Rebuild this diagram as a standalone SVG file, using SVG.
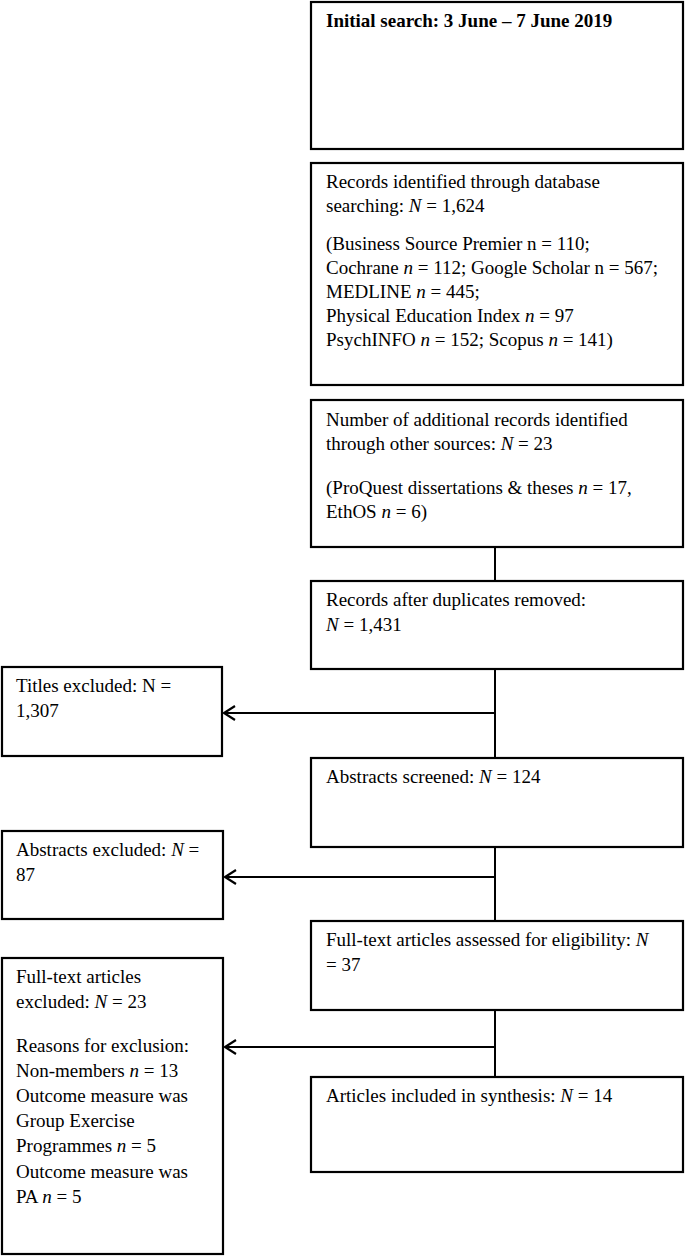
<svg xmlns="http://www.w3.org/2000/svg" width="685" height="1256" viewBox="0 0 685 1256">
<defs>
<style>
.box{fill:#fff;stroke:#000;stroke-width:2.2}
.t{font-family:"Liberation Serif","Times New Roman",serif;font-size:19px;fill:#000}
.b{font-weight:bold}
.i{font-style:italic}
.c{stroke:#000;stroke-width:2;fill:none}
</style>
<marker id="arr" markerUnits="userSpaceOnUse" markerWidth="20" markerHeight="20" refX="0" refY="0" orient="auto" overflow="visible">
<path d="M-11,-7 L0,0 L-11,7" fill="none" stroke="#000" stroke-width="2.2"/>
</marker>
</defs>
<rect width="685" height="1256" fill="#fff"/>

<g id="connectors">
<line class="c" x1="495" y1="547" x2="495" y2="581"/>
<line class="c" x1="495" y1="669" x2="495" y2="758"/>
<line class="c" x1="495" y1="713" x2="224" y2="713" marker-end="url(#arr)"/>
<line class="c" x1="495" y1="847" x2="495" y2="921"/>
<line class="c" x1="495" y1="877" x2="225" y2="877" marker-end="url(#arr)"/>
<line class="c" x1="495" y1="1010" x2="495" y2="1077"/>
<line class="c" x1="495" y1="1047" x2="225" y2="1047" marker-end="url(#arr)"/>
</g>

<g id="initial-search">
<rect class="box" x="311" y="2" width="372" height="147"/>
<text class="t b" x="326" y="27">Initial search: 3 June – 7 June 2019</text>
</g>

<g id="records-identified">
<rect class="box" x="311" y="163" width="372" height="222"/>
<text class="t" x="326" y="188">Records identified through database</text>
<text class="t" x="326" y="212">searching: <tspan class="i">N</tspan> = 1,624</text>
<text class="t" x="326" y="250">(Business Source Premier n = 110;</text>
<text class="t" x="326" y="274">Cochrane <tspan class="i">n</tspan> = 112; Google Scholar n = 567;</text>
<text class="t" x="326" y="298">MEDLINE <tspan class="i">n</tspan> = 445;</text>
<text class="t" x="326" y="322">Physical Education Index <tspan class="i">n</tspan> = 97</text>
<text class="t" x="326" y="346">PsychINFO <tspan class="i">n</tspan> = 152; Scopus <tspan class="i">n</tspan> = 141)</text>
</g>

<g id="additional-records">
<rect class="box" x="311" y="400" width="372" height="147"/>
<text class="t" x="326" y="426">Number of additional records identified</text>
<text class="t" x="326" y="450">through other sources: <tspan class="i">N</tspan> = 23</text>
<text class="t" x="326" y="494">(ProQuest dissertations &amp; theses <tspan class="i">n</tspan> = 17,</text>
<text class="t" x="326" y="518">EthOS <tspan class="i">n</tspan> = 6)</text>
</g>

<g id="after-duplicates">
<rect class="box" x="311" y="581" width="372" height="88"/>
<text class="t" x="326" y="606">Records after duplicates removed:</text>
<text class="t" x="326" y="631"><tspan class="i">N</tspan> = 1,431</text>
</g>

<g id="titles-excluded">
<rect class="box" x="2" y="667" width="220" height="89"/>
<text class="t" x="16" y="692">Titles excluded: N =</text>
<text class="t" x="16" y="717">1,307</text>
</g>

<g id="abstracts-screened">
<rect class="box" x="311" y="758" width="372" height="89"/>
<text class="t" x="326" y="783">Abstracts screened: <tspan class="i">N</tspan> = 124</text>
</g>

<g id="abstracts-excluded">
<rect class="box" x="2" y="831" width="221" height="88"/>
<text class="t" x="16" y="856">Abstracts excluded: <tspan class="i">N</tspan> =</text>
<text class="t" x="16" y="881">87</text>
</g>

<g id="fulltext-assessed">
<rect class="box" x="311" y="921" width="372" height="89"/>
<text class="t" x="326" y="946">Full-text articles assessed for eligibility: <tspan class="i">N</tspan></text>
<text class="t" x="326" y="971">= 37</text>
</g>

<g id="fulltext-excluded">
<rect class="box" x="2" y="958" width="221" height="296"/>
<text class="t" x="16" y="983">Full-text articles</text>
<text class="t" x="16" y="1008">excluded: <tspan class="i">N</tspan> = 23</text>
<text class="t" x="16" y="1052">Reasons for exclusion:</text>
<text class="t" x="16" y="1077">Non-members <tspan class="i">n</tspan> = 13</text>
<text class="t" x="16" y="1102">Outcome measure was</text>
<text class="t" x="16" y="1127">Group Exercise</text>
<text class="t" x="16" y="1152">Programmes <tspan class="i">n</tspan> = 5</text>
<text class="t" x="16" y="1178">Outcome measure was</text>
<text class="t" x="16" y="1203">PA <tspan class="i">n</tspan> = 5</text>
</g>

<g id="included">
<rect class="box" x="311" y="1077" width="372" height="95"/>
<text class="t" x="326" y="1102">Articles included in synthesis: <tspan class="i">N</tspan> = 14</text>
</g>
</svg>
